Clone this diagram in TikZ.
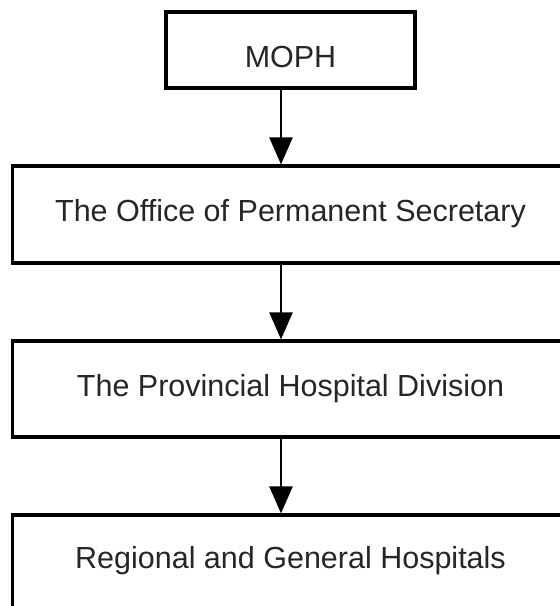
\documentclass[tikz,border=0pt]{standalone}
\usepackage{fontspec}
\setmainfont{Liberation Sans}
\usetikzlibrary{arrows.meta, positioning}

\begin{document}
\begin{tikzpicture}[x=1pt, y=-1pt,
  box/.style={draw, line width=3.2pt, inner sep=0pt, text depth=0pt,
    font=\fontsize{30.5}{36}\selectfont, text=black!85},
  wide/.style={box, minimum width=556pt},
  arr/.style={line width=2.4pt, -{Triangle[length=27pt, width=23pt]}}]

\useasboundingbox (0,0) rectangle (560,606);
\clip (0,0) rectangle (560,606);

\node[box, minimum width=249pt, minimum height=76pt, text height=34pt] (moph) at (290.5,50) {MOPH};
\node[wide, minimum height=97pt, text height=13pt, below=74.8pt of moph] (office) {The Office of Permanent Secretary};
\node[wide, minimum height=96pt, text height=14pt, below=74.8pt of office] (division) {The Provincial Hospital Division};
\node[wide, minimum height=100pt, text height=6pt, below=74.8pt of division] (hospitals) {Regional and General Hospitals};

\coordinate (ax) at (281,0);
\draw[arr] (moph.south -| ax) -- (office.north -| ax);
\draw[arr] (office.south -| ax) -- (division.north -| ax);
\draw[arr] (division.south -| ax) -- (hospitals.north -| ax);

\end{tikzpicture}
\end{document}
